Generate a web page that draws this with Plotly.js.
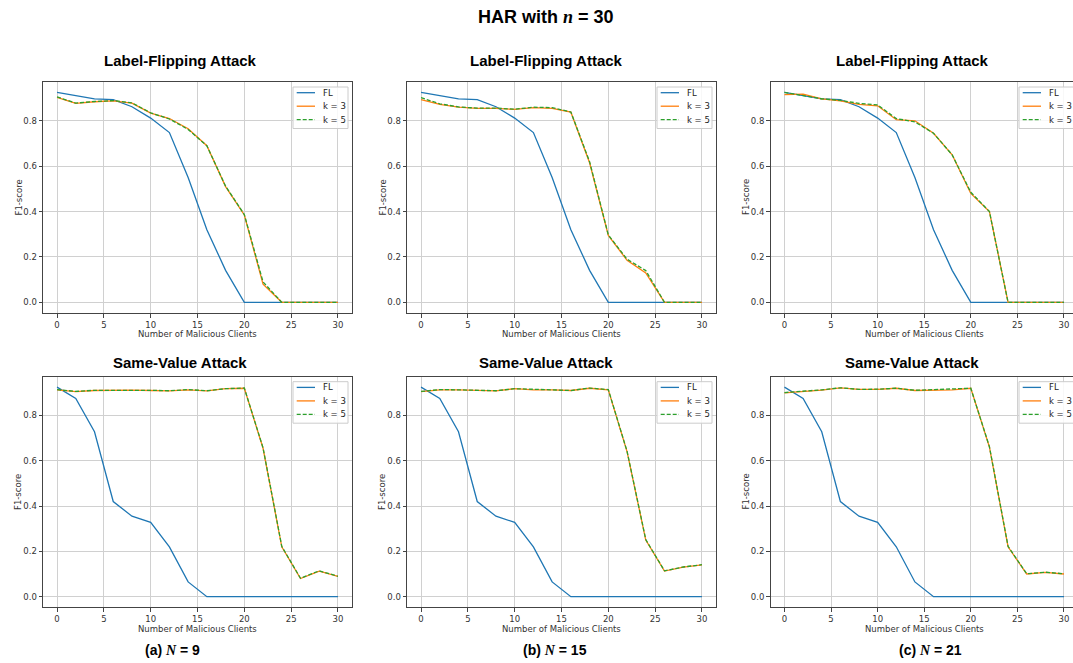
<!DOCTYPE html>
<html>
<head>
<meta charset="utf-8">
<script src="https://cdn.plot.ly/plotly-3.0.1.min.js"></script>
<style>html,body{margin:0;padding:0;background:#fff;} #chart{width:1073px;height:663px;}</style>
</head>
<body>
<div id="chart"></div>
<script>
// ---- data ----
const clients = [0,2,4,6,8,10,12,14,16,18,20,22,24,26,28,30];
const seriesNames = ['FL','k = 3','k = 5'];
const xTicks = [0,5,10,15,20,25,30];
const yTicks = [0,0.2,0.4,0.6,0.8];
const panelTitles = ['Label-Flipping Attack','Label-Flipping Attack','Label-Flipping Attack','Same-Value Attack','Same-Value Attack','Same-Value Attack'];
const captions = ['(a) <span style="font-family:\'Liberation Serif\'"><i>N</i></span> = 9','(b) <span style="font-family:\'Liberation Serif\'"><i>N</i></span> = 15','(c) <span style="font-family:\'Liberation Serif\'"><i>N</i></span> = 21'];

const lfFL    = [0.925,0.912,0.897,0.893,0.862,0.812,0.748,0.55,0.32,0.141,0,0,0,0,0,0];
const lfK3N9  = [0.903,0.877,0.884,0.888,0.878,0.834,0.81,0.765,0.69,0.51,0.385,0.08,0,0,0,0];
const lfK5N9  = [0.905,0.878,0.885,0.889,0.879,0.835,0.808,0.762,0.69,0.512,0.387,0.09,0,0,0,0];
const lfK3N15 = [0.893,0.872,0.86,0.855,0.855,0.85,0.858,0.855,0.838,0.615,0.295,0.185,0.13,0,0,0];
const lfK5N15 = [0.902,0.875,0.861,0.856,0.856,0.851,0.86,0.858,0.839,0.62,0.297,0.19,0.14,0,0,0];
const lfK3N21 = [0.915,0.918,0.897,0.888,0.872,0.866,0.805,0.8,0.745,0.65,0.48,0.4,0,0,0,0];
const lfK5N21 = [0.925,0.912,0.897,0.89,0.877,0.87,0.81,0.795,0.745,0.65,0.485,0.4,0,0,0,0];
const svFL    = [0.925,0.875,0.728,0.42,0.355,0.328,0.22,0.065,0,0,0,0,0,0,0,0];
const svK3N9  = [0.913,0.905,0.91,0.912,0.912,0.91,0.908,0.913,0.908,0.918,0.92,0.655,0.22,0.08,0.113,0.09];
const svK5N9  = [0.914,0.906,0.911,0.912,0.912,0.911,0.909,0.914,0.909,0.918,0.921,0.657,0.222,0.081,0.114,0.09];
const svK3N15 = [0.905,0.913,0.913,0.91,0.908,0.918,0.913,0.913,0.91,0.92,0.913,0.64,0.25,0.113,0.13,0.14];
const svK5N15 = [0.906,0.914,0.913,0.911,0.909,0.918,0.914,0.913,0.91,0.921,0.914,0.642,0.252,0.114,0.131,0.141];
const svK3N21 = [0.9,0.905,0.912,0.922,0.915,0.915,0.92,0.91,0.913,0.913,0.92,0.66,0.22,0.1,0.107,0.1];
const svK5N21 = [0.901,0.906,0.913,0.922,0.915,0.916,0.92,0.911,0.914,0.914,0.92,0.662,0.222,0.101,0.108,0.101];

const panels = [
  [lfFL, lfK3N9, lfK5N9], [lfFL, lfK3N15, lfK5N15], [lfFL, lfK3N21, lfK5N21],
  [svFL, svK3N9, svK5N9], [svFL, svK3N15, svK5N15], [svFL, svK3N21, svK5N21]
];

// ---- styling / layout ----
const W = 1073, H = 663;
const colors = ['#1f77b4','#ff7f0e','#2ca02c'];
const dashes = ['solid','solid','4px,2px'];
const colPx = [[43,352],[407,716],[770.5,1073]];
const axRight = [352,716,1078];
const xRanges = [[-1.5,31.5],[-1.5,31.5],[-1.5,30.97]];
const rowPx = [[82,313],[376.7,607.3]];
const yRange = [-0.047,0.971];
const titleX = [180,546,912];
const captionX = [172,555,930];

const traces = [];
const layout = {
  width: W, height: H,
  margin: {l:0,r:0,t:0,b:0},
  paper_bgcolor: '#fff', plot_bgcolor: '#fff',
  font: {family: 'DejaVu Sans', color: '#333', size: 8.5},
  annotations: [], shapes: [],
  showlegend: false
};
const px = v => v / W, py = v => 1 - v / H;

panels.forEach((pd, i) => {
  const col = i % 3, row = Math.floor(i / 3);
  const n = i + 1;
  const xa = 'xaxis' + (n === 1 ? '' : n), ya = 'yaxis' + (n === 1 ? '' : n);
  const xref = 'x' + (n === 1 ? '' : n), yref = 'y' + (n === 1 ? '' : n);
  pd.forEach((vals, s) => {
    traces.push({
      type: 'scatter', mode: 'lines', x: clients, y: vals, name: seriesNames[s],
      xaxis: xref, yaxis: yref, showlegend: false,
      line: {color: colors[s], width: 1.3, dash: dashes[s]}
    });
  });
  const axCommon = {
    showline: true, mirror: true, linecolor: '#444', linewidth: 1,
    ticks: 'outside', ticklen: 3.5, tickcolor: '#444', tickwidth: 1,
    showgrid: true, gridcolor: '#d0d0d0', gridwidth: 1, zeroline: false,
    tickfont: {family: 'DejaVu Sans', size: 8.5, color: '#333'}
  };
  layout[xa] = Object.assign({}, axCommon, {
    domain: [colPx[col][0] / W, colPx[col][1] / W], range: xRanges[col],
    tickmode: 'array', tickvals: xTicks, anchor: yref
  });
  layout[ya] = Object.assign({}, axCommon, {
    domain: [1 - rowPx[row][1] / H, 1 - rowPx[row][0] / H], range: yRange,
    tickmode: 'array', tickvals: yTicks, tickformat: '.1f', anchor: xref
  });

  // legend box (matplotlib style, compact)
  const boxR = axRight[col] - 4, boxL = boxR - 55;
  const boxT = rowPx[row][0] + 5, boxB = boxT + 41.5;
  layout.shapes.push({
    type: 'rect', xref: 'paper', yref: 'paper',
    x0: px(boxL), x1: px(boxR), y0: py(boxB), y1: py(boxT),
    fillcolor: 'rgba(255,255,255,0.85)', line: {color: '#cccccc', width: 1}, layer: 'above'
  });
  seriesNames.forEach((nm, s) => {
    const yy = rowPx[row][0] + 10.7 + s * 13.5;
    layout.shapes.push({
      type: 'line', xref: 'paper', yref: 'paper',
      x0: px(boxL + 3.7), x1: px(boxL + 22), y0: py(yy), y1: py(yy),
      line: {color: colors[s], width: 1.3, dash: dashes[s]}, layer: 'above'
    });
    layout.annotations.push({
      text: nm, xref: 'paper', yref: 'paper', x: px(boxL + 28), y: py(yy),
      xanchor: 'left', yanchor: 'middle', showarrow: false,
      font: {family: 'DejaVu Sans', size: 8.5, color: '#222'}
    });
  });

  // panel title
  layout.annotations.push({
    text: '<b>' + panelTitles[i] + '</b>', xref: 'paper', yref: 'paper',
    x: px(titleX[col]), y: py(row === 0 ? 60.7 : 362.7),
    xanchor: 'center', yanchor: 'middle', showarrow: false,
    font: {family: 'Liberation Sans', size: 15, color: '#000'}
  });
  // x label
  layout.annotations.push({
    text: 'Number of Malicious Clients', xref: 'paper', yref: 'paper',
    x: px((colPx[col][0] + axRight[col]) / 2), y: py(row === 0 ? 334 : 629),
    xanchor: 'center', yanchor: 'middle', showarrow: false,
    font: {family: 'DejaVu Sans', size: 8.5, color: '#333'}
  });
  // y label
  layout.annotations.push({
    text: 'F1-score', xref: 'paper', yref: 'paper', textangle: -90,
    x: px(colPx[col][0] - 25), y: py((rowPx[row][0] + rowPx[row][1]) / 2),
    xanchor: 'center', yanchor: 'middle', showarrow: false,
    font: {family: 'DejaVu Sans', size: 8.5, color: '#333'}
  });
});

// main title
layout.annotations.push({
  text: '<b>HAR with <span style="font-family:\'Liberation Serif\'"><i>n</i></span> = 30</b>',
  xref: 'paper', yref: 'paper', x: px(546), y: py(17),
  xanchor: 'center', yanchor: 'middle', showarrow: false,
  font: {family: 'Liberation Sans', size: 18, color: '#000'}
});
// captions
captions.forEach((c, j) => {
  layout.annotations.push({
    text: '<b>' + c + '</b>', xref: 'paper', yref: 'paper',
    x: px(captionX[j]), y: py(650), xanchor: 'center', yanchor: 'middle',
    showarrow: false, font: {family: 'Liberation Sans', size: 14, color: '#000'}
  });
});

Plotly.newPlot('chart', traces, layout, {staticPlot: true, displayModeBar: false});
</script>
</body>
</html>
